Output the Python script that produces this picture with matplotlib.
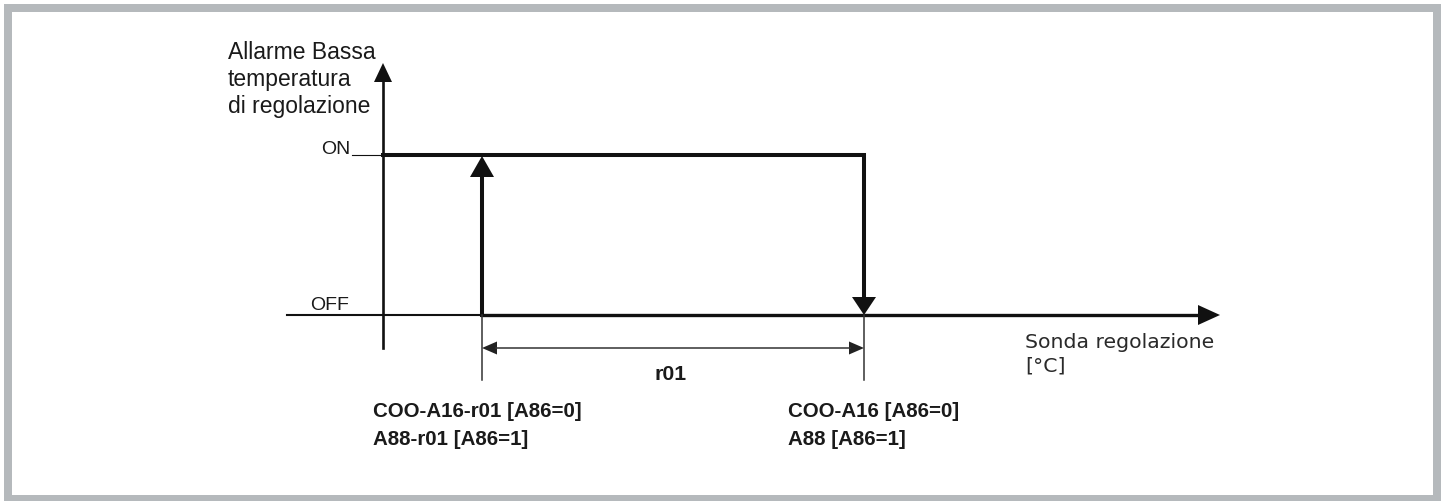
import matplotlib.pyplot as plt
from matplotlib.patches import Rectangle

# low temperature alarm: hysteresis between two thresholds
states = ['OFF', 'ON']
levels = [0, 1]
thresholds = [0, 1]   # COO-A16-r01 (release), COO-A16 (trigger)
low_labels = ['COO-A16-r01 [A86=0]', 'A88-r01 [A86=1]']
high_labels = ['COO-A16 [A86=0]', 'A88 [A86=1]']
band_label = 'r01'
y_title = ['Allarme Bassa', 'temperatura', 'di regolazione']
x_title = ['Sonda regolazione', '[°C]']

W, H = 1443, 501
sx, sy = 382.0, 160.0   # pixels per data unit
px0, py0 = 482, 315     # pixel position of (0, 0)

fig = plt.figure(figsize=(W / 100, H / 100), dpi=100)
ax = fig.add_axes([0, 0, 1, 1])
ax.set_xlim(-px0 / sx, (W - px0) / sx)
ax.set_ylim((py0 - H) / sy, py0 / sy)
ax.axis('off')

INK = '#111111'
TXT = '#1a1a1a'


def dx(p):
    return p / sx


def dy(p):
    return p / sy


def head(x, y, d, length, width, color=INK):
    # filled triangle with tip at (x, y)
    if d == 'up':
        pts = [(x, y), (x - dx(width / 2), y - dy(length)), (x + dx(width / 2), y - dy(length))]
    elif d == 'down':
        pts = [(x, y), (x - dx(width / 2), y + dy(length)), (x + dx(width / 2), y + dy(length))]
    elif d == 'right':
        pts = [(x, y), (x - dx(length), y - dy(width / 2)), (x - dx(length), y + dy(width / 2))]
    else:
        pts = [(x, y), (x + dx(length), y - dy(width / 2)), (x + dx(length), y + dy(width / 2))]
    xs, ys = zip(*pts)
    ax.fill(xs, ys, color=color, lw=0)


lo, hi = thresholds
off, on = levels
ya = lo - dx(99)          # vertical axis position
x_tip = hi + dx(356)
y_tip = on + dy(92)

# frame
fig.add_artist(Rectangle((8 / W, 2 / H), (1437 - 8) / W, (493 - 2) / H,
                         transform=fig.transFigure, fill=False,
                         ec='#b5b9bc', lw=8 * 0.72))

# axes
ax.plot([ya, ya], [off - dy(33), y_tip - dy(18)], color=INK, lw=1.9)
head(ya, y_tip, 'up', 19, 18)
ax.plot([lo - dx(195), lo], [off, off], color=INK, lw=1.5)
ax.plot([lo, x_tip - dx(20)], [off, off], color=INK, lw=2.4)
head(x_tip, off, 'right', 22, 20)

# ON tick
ax.plot([ya - dx(31), ya], [on, on], color=INK, lw=0.8)

# hysteresis path
ax.plot([ya, hi, hi], [on, on, off + dy(18)], color=INK, lw=2.9, solid_joinstyle='miter')
head(hi, off, 'down', 18, 24)
ax.plot([lo, lo], [off, on - dy(21)], color=INK, lw=2.9)
head(lo, on - dy(1), 'up', 21, 24)

# dimension r01
yd = off - dy(33)
for t in thresholds:
    ax.plot([t, t], [off, off - dy(65)], color='#333333', lw=1.1)
ax.plot([lo + dx(14), hi - dx(14)], [yd, yd], color='#333333', lw=1.1)
head(lo, yd, 'left', 15, 13, '#222222')
head(hi, yd, 'right', 15, 13, '#222222')

bold = dict(family='Liberation Sans', weight='bold', color=TXT)
reg = dict(family='Liberation Sans', color=TXT)

ax.annotate(band_label, ((lo + hi) / 2, off - dy(65)), xytext=(-2, 0), textcoords='offset pixels',
            ha='center', va='baseline', fontsize=15.3, **bold)

for i, (a, b) in enumerate(zip(low_labels, high_labels)):
    ax.annotate(a, (lo, off), xytext=(-109, -102 - 28 * i), textcoords='offset pixels',
                ha='left', va='baseline', fontsize=14.8, **bold)
    ax.annotate(b, (hi, off), xytext=(-76, -102 - 28 * i), textcoords='offset pixels',
                ha='left', va='baseline', fontsize=14.8, **bold)

# state labels
ax.annotate(states[1], (ya, on), xytext=(-33, 1), textcoords='offset pixels',
            ha='right', va='baseline', fontsize=14, **reg)
ax.annotate(states[0], (ya, off), xytext=(-34, 5), textcoords='offset pixels',
            ha='right', va='baseline', fontsize=14, **reg)

# axis titles
for i, s in enumerate(y_title):
    ax.annotate(s, (ya, on), xytext=(-155, 96 - 27 * i), textcoords='offset pixels',
                ha='left', va='baseline', fontsize=16.5, **reg)
for i, s in enumerate(x_title):
    ax.annotate(s, (hi, off), xytext=(161, -33 - 24 * i), textcoords='offset pixels',
                ha='left', va='baseline', fontsize=14.7, family='DejaVu Sans', color='#2a2a2a')

fig.savefig('out.png', dpi=100, facecolor='white')
